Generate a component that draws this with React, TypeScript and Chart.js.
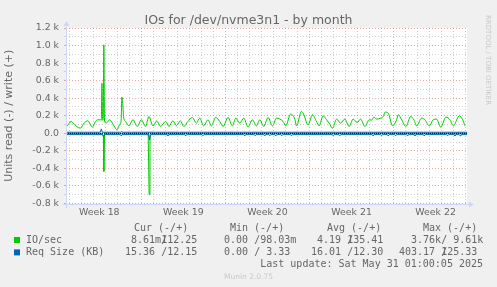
import { useEffect, useRef } from 'react';
import { Chart, registerables } from 'chart.js';

Chart.register(...registerables);

const TITLE = 'IOs for /dev/nvme3n1 - by month';
const Y_TITLE = 'Units read (-) / write (+)';
const WATERMARK = 'RRDTOOL / TOBI OETIKER';
const VERSION = 'Munin 2.0.75';
const LAST_UPDATE = 'Last update: Sat May 31 01:00:05 2025';

// x axis: days relative to Monday of week 19
const X_MIN = -6.27;
const X_MAX = 27.11;
const dayLines = [-6, -5, -4, -3, -2, -1, 0, 1, 2, 3, 4, 5, 6, 7, 8, 9, 10, 11, 12, 13, 14, 15, 16, 17, 18, 19, 20, 21, 22, 23, 24, 25, 26, 27];
const weekStarts = [0, 7, 14, 21];
const weekCenters = [-3.5, 3.5, 10.5, 17.5, 24.5];
const weekLabels = ['Week 18', 'Week 19', 'Week 20', 'Week 21', 'Week 22'];

const yMajorValues = [-800, -600, -400, -200, 0, 200, 400, 600, 800, 1000, 1200];
const yMajorLabels = ['-0.8 k', '-0.6 k', '-0.4 k', '-0.2 k', '0.0', '0.2 k', '0.4 k', '0.6 k', '0.8 k', '1.0 k', '1.2 k'];
const yMinorValues = [-700, -500, -300, -100, 100, 300, 500, 700, 900, 1100];

// IO/sec write (+)
const ioWriteDays = [-6.25, -5.83, -5.56, -5.08, -4.73, -4.45, -4.08, -3.81, -3.62, -3.42, -3.33, -3.28, -3.22, -3.17, -3.12, -3.06, -2.92, -2.64, -2.28, -2.03, -1.81, -1.68, -1.62, -1.53, -1.48, -1.31, -1.03, -0.70, -0.33, 0, 0.36, 0.63, 0.97, 1.30, 1.58, 2.03, 2.30, 2.63, 2.92, 3.25, 3.53, 3.88, 4.25, 4.58, 4.86, 5.19, 5.55, 5.83, 6.19, 6.53, 6.80, 7.22, 7.58, 7.86, 8.19, 8.53, 8.88, 9.25, 9.58, 9.86, 10.19, 10.55, 10.92, 11.25, 11.80, 12.03, 12.42, 12.78, 12.92, 13.33, 13.47, 13.88, 14.25, 14.58, 14.80, 15.13, 15.42, 15.63, 15.92, 16.25, 16.58, 16.94, 17.30, 17.63, 17.97, 18.25, 18.61, 18.97, 19.17, 19.36, 19.58, 19.92, 20.13, 20.30, 20.55, 20.92, 21.25, 21.38, 21.67, 22.03, 22.42, 22.69, 22.92, 23.33, 23.61, 23.97, 24.30, 24.58, 24.92, 25.36, 25.69, 25.97, 26.47, 26.75, 26.94];
const ioWriteVals = [71, 135, 97, 59, 123, 142, 71, 135, 154, 154, 150, 572, 150, 160, 1008, 140, 116, 154, 85, 40, 97, 150, 413, 300, 192, 135, 85, 154, 78, 154, 78, 192, 85, 143, 78, 135, 78, 143, 85, 143, 78, 135, 181, 116, 173, 85, 154, 85, 181, 135, 78, 181, 85, 173, 116, 173, 71, 154, 85, 154, 78, 181, 85, 173, 135, 85, 219, 162, 85, 249, 230, 97, 211, 135, 85, 199, 154, 116, 59, 162, 116, 162, 78, 162, 123, 162, 78, 154, 150, 185, 162, 173, 190, 242, 230, 85, 154, 211, 154, 78, 192, 154, 85, 173, 154, 85, 154, 162, 71, 185, 154, 85, 199, 154, 85];

// IO/sec read (-)
const ioReadDays = [-6.27, -3.22, -3.16, -3.12, -3.06, 0.57, 0.65, 0.72, 27.11];
const ioReadVals = [-4, -4, -40, -435, -6, -5, -695, -5, -4];

// Req Size write (+)
const reqWriteDays = [-6.27, -3.42, -3.33, -3.25, -1.7, -1.62, -1.54, 27.11];
const reqWriteVals = [12, 12, 50, 12, 12, 22, 12, 12];

// Req Size read (-)
const reqReadDays = [-6.27, -3.22, -3.14, -3.06, -1.75, -1.67, -1.59, 0.6, 0.69, 0.78, 2.14, 2.22, 2.3, 3.61, 3.69, 3.77, 5.05, 5.13, 5.21, 8.53, 8.61, 8.69, 9.4, 9.48, 9.56, 10.19, 10.27, 10.35, 10.61, 10.69, 10.77, 11.11, 11.19, 11.27, 11.61, 11.69, 11.77, 12.42, 12.5, 12.58, 15.89, 15.97, 16.05, 16.45, 16.53, 16.61, 19.22, 19.3, 19.38, 19.92, 20.0, 20.08, 20.47, 20.55, 20.63, 21.09, 21.17, 21.25, 22.09, 22.17, 22.25, 22.7, 22.78, 22.86, 23.47, 23.55, 23.63, 25.42, 25.5, 25.58, 26.03, 26.11, 26.19, 26.45, 26.53, 26.61, 27.11];
const reqReadVals = [-15, -15, -40, -15, -15, -30, -15, -15, -75, -15, -15, -28, -15, -15, -30, -15, -15, -28, -15, -15, -30, -15, -15, -28, -15, -15, -30, -15, -15, -28, -15, -15, -30, -15, -15, -28, -15, -15, -28, -15, -15, -28, -15, -15, -28, -15, -15, -30, -15, -15, -28, -15, -15, -30, -15, -15, -28, -15, -15, -30, -15, -15, -28, -15, -15, -30, -15, -15, -28, -15, -15, -30, -15, -15, -28, -15, -15];

const zeroDays = [X_MIN, X_MAX];
const zeroVals = [0, 0];

// legend
const legendHeaders = ['Cur (-/+)', 'Min (-/+)', 'Avg (-/+)', 'Max (-/+)'];
const legendNames = ['IO/sec', 'Req Size (KB)'];
const legendColors = ['#00CC00', '#0066B3'];
const ioReadStats = ['  8.61m', '  0.00 ', '  4.19 ', '  3.76k'];
const ioWriteStats = ['112.25 ', ' 98.03m', '135.41 ', '  9.61k'];
const reqReadStats = [' 15.36 ', '  0.00 ', ' 16.01 ', '403.17 '];
const reqWriteStats = [' 12.15 ', '  3.33 ', ' 12.30 ', '125.33 '];

const toPoints = (xs: number[], ys: number[]) => xs.map((x, i) => ({ x, y: ys[i] }));

const TEXT = '#666666';
const MINOR = '#CFCFCF';
const MAJOR = 'rgba(222,79,79,0.5)';
const AXIS = '#CFD6F8';

const muninPlugin = {
  id: 'munin',
  beforeDraw(chart: any) {
    const { ctx, chartArea: a } = chart;
    ctx.save();
    ctx.fillStyle = '#F0F0F0';
    ctx.fillRect(0, 0, chart.width, chart.height);
    ctx.fillStyle = '#FFFFFF';
    ctx.fillRect(a.left, a.top, a.right - a.left, a.bottom - a.top);
    ctx.restore();
  },
  afterDraw(chart: any) {
    const { ctx, chartArea: a } = chart;
    ctx.save();
    // axes
    ctx.strokeStyle = AXIS;
    ctx.fillStyle = AXIS;
    ctx.lineWidth = 1;
    const x0 = Math.round(a.left) + 0.5;
    const y0 = Math.round(a.bottom) + 0.5;
    ctx.beginPath();
    ctx.moveTo(x0 - 4, y0);
    ctx.lineTo(a.right + 4, y0);
    ctx.moveTo(x0, y0 + 4);
    ctx.lineTo(x0, a.top - 4);
    ctx.stroke();
    ctx.beginPath();
    ctx.moveTo(a.right + 2, y0 - 3);
    ctx.lineTo(a.right + 2, y0 + 3);
    ctx.lineTo(a.right + 7, y0);
    ctx.closePath();
    ctx.fill();
    ctx.beginPath();
    ctx.moveTo(x0 - 3, a.top - 2);
    ctx.lineTo(x0 + 3, a.top - 2);
    ctx.lineTo(x0, a.top - 7);
    ctx.closePath();
    ctx.fill();

    // title
    ctx.fillStyle = TEXT;
    ctx.textAlign = 'center';
    ctx.textBaseline = 'alphabetic';
    ctx.font = '12.5px "DejaVu Sans"';
    ctx.fillText(TITLE, chart.width / 2, 24);

    // watermark
    ctx.save();
    ctx.translate(488, 15);
    ctx.rotate(Math.PI / 2);
    ctx.fillStyle = '#C8C8C8';
    ctx.font = '7px "DejaVu Sans"';
    ctx.textAlign = 'left';
    ctx.textBaseline = 'middle';
    ctx.fillText(WATERMARK, 0, 0);
    ctx.restore();

    // legend
    ctx.font = '10px "DejaVu Sans Mono"';
    ctx.textAlign = 'left';
    ctx.fillStyle = TEXT;
    const cw = ctx.measureText('0').width;
    const headerX = [134, 230, 327, 423];
    legendHeaders.forEach((h, i) => ctx.fillText(h, headerX[i], 231));
    const colX = [119, 212, 305, 399];
    const rows = [
      [ioReadStats, ioWriteStats],
      [reqReadStats, reqWriteStats],
    ];
    const rowY = [243, 255.4];
    rows.forEach((r, ri) => {
      ctx.fillStyle = legendColors[ri];
      ctx.fillRect(14, rowY[ri] - 6, 6, 6);
      ctx.fillStyle = TEXT;
      ctx.fillText(legendNames[ri], 26, rowY[ri]);
      colX.forEach((s, ci) => {
        ctx.fillText(r[0][ci], s, rowY[ri]);
        ctx.fillText('/', s + cw * 7, rowY[ri]);
        ctx.fillText(r[1][ci], s + cw * 7, rowY[ri]);
      });
    });
    ctx.textAlign = 'right';
    ctx.fillText(LAST_UPDATE, 483, 267);

    ctx.textAlign = 'center';
    ctx.fillStyle = '#C8C8C8';
    ctx.font = '7.5px "DejaVu Sans"';
    ctx.fillText(VERSION, chart.width / 2, 278.7);
    ctx.restore();
  },
};

export default function App() {
  const ref = useRef<HTMLCanvasElement>(null);
  useEffect(() => {
    if (!ref.current) return;
    const xTicks = [...dayLines, ...weekCenters].sort((a, b) => a - b);
    const yTicks = [...yMajorValues, ...yMinorValues].sort((a, b) => a - b);
    const lineDs = (label: string, xs: number[], ys: number[], color: string, dash: number[] = [], smooth = false) => ({
      label,
      data: toPoints(xs, ys),
      borderColor: color,
      backgroundColor: color,
      borderWidth: 1,
      borderDash: dash,
      pointRadius: 0,
      tension: smooth ? 0.4 : 0,
      cubicInterpolationMode: smooth ? 'monotone' : 'default',
      fill: false,
    });
    const chart = new Chart(ref.current, {
      type: 'line',
      data: {
        datasets: [
          lineDs('zero', zeroDays, zeroVals, '#000000', [1, 1]),
          lineDs('Req Size write', reqWriteDays, reqWriteVals, '#0066B3'),
          lineDs('Req Size read', reqReadDays, reqReadVals, '#0066B3'),
          lineDs('IO/sec write', ioWriteDays, ioWriteVals, '#00CC00', [], true),
          lineDs('IO/sec read', ioReadDays, ioReadVals, '#00CC00'),
        ] as any,
      },
      options: {
        responsive: false,
        animation: false,
        devicePixelRatio: 1,
        layout: { padding: { top: 28, left: 0, right: 30, bottom: 0 } },
        plugins: { legend: { display: false }, tooltip: { enabled: false }, title: { display: false } },
        scales: {
          x: {
            type: 'linear',
            min: X_MIN,
            max: X_MAX,
            afterBuildTicks: (s: any) => { s.ticks = xTicks.map((v) => ({ value: v })); },
            afterFit: (s: any) => { s.height = 83.5; },
            grid: {
              drawTicks: false,
              color: (c: any) => {
                const v = c.tick?.value;
                if (weekCenters.includes(v)) return 'rgba(0,0,0,0)';
                if (weekStarts.includes(v)) return MAJOR;
                return MINOR;
              },
            },
            border: { display: false, dash: [1, 2] },
            ticks: {
              autoSkip: false,
              maxRotation: 0,
              padding: 3,
              color: TEXT,
              font: { family: 'DejaVu Sans', size: 9.4 },
              callback: (v: any) => {
                const i = weekCenters.indexOf(Number(v));
                return i >= 0 ? weekLabels[i] : '';
              },
            },
          },
          y: {
            type: 'linear',
            min: -800,
            max: 1200,
            afterBuildTicks: (s: any) => { s.ticks = yTicks.map((v) => ({ value: v })); },
            afterFit: (s: any) => { s.width = 66; },
            grid: {
              drawTicks: true,
              tickLength: 2,
              color: (c: any) => (yMajorValues.includes(c.tick?.value) ? MAJOR : MINOR),
            },
            border: { display: false, dash: [1, 2] },
            title: {
              display: true,
              text: Y_TITLE,
              color: TEXT,
              font: { family: 'DejaVu Sans', size: 11 },
              padding: { top: 3, bottom: 0 },
            },
            ticks: {
              autoSkip: false,
              padding: 5,
              color: TEXT,
              font: { family: 'DejaVu Sans', size: 9.4 },
              callback: (v: any) => {
                const i = yMajorValues.indexOf(Number(v));
                return i >= 0 ? yMajorLabels[i] : '';
              },
            },
          },
        },
      } as any,
      plugins: [muninPlugin],
    });
    return () => chart.destroy();
  }, []);
  return (
    <div style={{ position: 'fixed', left: 0, top: 0, width: 497, height: 287, background: '#F0F0F0' }}>
      <canvas ref={ref} width={497} height={287} style={{ display: 'block' }} />
    </div>
  );
}
